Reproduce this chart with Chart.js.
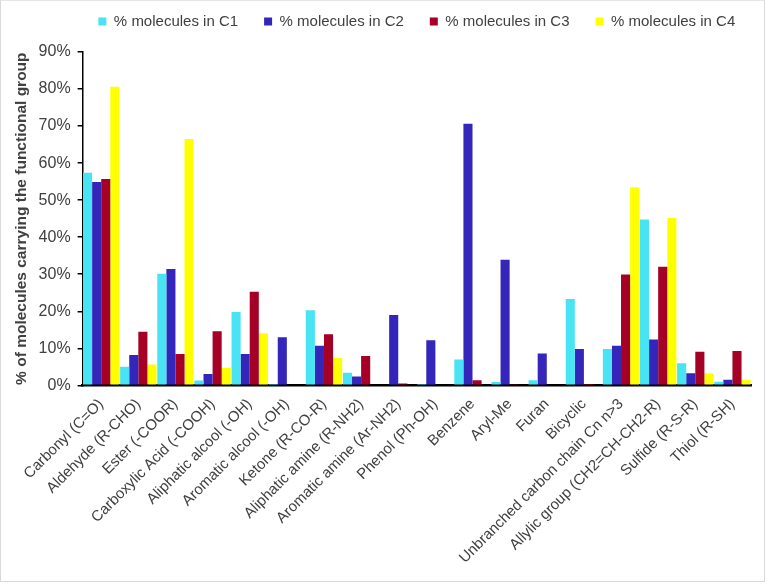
<!DOCTYPE html>
<html>
<head>
<meta charset="utf-8">
<script src="https://cdn.jsdelivr.net/npm/chart.js@4"></script>
<style>
  html, body { margin: 0; padding: 0; background: #fff; }
  #wrap { position: relative; width: 763px; height: 580px; border: 1px solid #d9d9d9; border-top-color: #e6e6e6; }
</style>
</head>
<body>
<div id="wrap"><canvas id="myChart"></canvas></div>
<script>
// functional groups on the x axis
const groups = [
  "Carbonyl (C=O)",
  "Aldehyde (R-CHO)",
  "Ester (-COOR)",
  "Carboxylic Acid (-COOH)",
  "Aliphatic alcool (-OH)",
  "Aromatic alcool (-OH)",
  "Ketone (R-CO-R)",
  "Aliphatic amine (R-NH2)",
  "Aromatic amine (Ar-NH2)",
  "Phenol (Ph-OH)",
  "Benzene",
  "Aryl-Me",
  "Furan",
  "Bicyclic",
  "Unbranched carbon chain Cn n>3",
  "Allylic group (CH2=CH-CH2-R)",
  "Sulfide (R-S-R)",
  "Thiol (R-SH)"
];

// % of molecules in each cluster
const c1 = [57.4, 5.0, 30.1, 1.3, 19.8, 0.4, 20.3, 3.4, 0, 0.4, 7.0, 0.9, 1.4, 23.3, 9.8, 44.8, 6.0, 1.0];
const c2 = [54.9, 8.2, 31.4, 3.1, 8.5, 13.0, 10.7, 2.4, 19.0, 12.2, 70.6, 33.9, 8.6, 9.8, 10.7, 12.4, 3.3, 1.5];
const c3 = [55.7, 14.5, 8.5, 14.6, 25.3, 0, 13.8, 7.9, 0.5, 0, 1.4, 0.3, 0, 0.4, 29.9, 32.0, 9.1, 9.3];
const c4 = [80.6, 5.6, 66.5, 4.7, 14.1, 0, 7.4, 0, 0, 0, 0, 0, 0, 0, 53.5, 45.2, 3.3, 1.5];

const yTicks = [0, 10, 20, 30, 40, 50, 60, 70, 80, 90];

const textColor = "#404040";
const ctx = document.getElementById("myChart");

// center the legend over the plot area and pull it up a bit
const legendShift = {
  id: "legendShift",
  afterLayout(chart) {
    const lg = chart.legend;
    const dx = (chart.chartArea.left + chart.chartArea.right) / 2 - (lg.left + lg.right) / 2;
    lg.left += dx;
    lg.right += dx;
    lg.top -= 13;
    lg.bottom -= 13;
  }
};

new Chart(ctx, {
  type: "bar",
  data: {
    labels: groups,
    datasets: [
      { label: "% molecules in C1", data: c1, backgroundColor: "#48e4f4" },
      { label: "% molecules in C2", data: c2, backgroundColor: "#3426ba" },
      { label: "% molecules in C3", data: c3, backgroundColor: "#a50025" },
      { label: "% molecules in C4", data: c4, backgroundColor: "#ffff00" }
    ]
  },
  plugins: [legendShift],
  options: {
    responsive: true,
    maintainAspectRatio: false,
    animation: false,
    datasets: {
      bar: { barPercentage: 1.0, categoryPercentage: 0.98 }
    },
    layout: { padding: { left: 11, right: 13, top: 0, bottom: 12 } },
    plugins: {
      tooltip: { enabled: false },
      legend: {
        position: "top",
        labels: {
          color: textColor,
          boxWidth: 8,
          boxHeight: 8,
          padding: 26,
          font: { family: "Liberation Sans", size: 15 }
        }
      }
    },
    scales: {
      x: {
        grid: { display: false },
        border: { color: "#000", width: 2.5 },
        ticks: {
          color: textColor,
          maxRotation: 45,
          minRotation: 45,
          autoSkip: false,
          padding: 2,
          font: { family: "Liberation Sans", size: 15 }
        }
      },
      y: {
        min: 0,
        max: 90,
        afterBuildTicks: (axis) => { axis.ticks = yTicks.map(v => ({ value: v })); },
        grid: {
          drawOnChartArea: false,
          drawTicks: true,
          tickLength: 5,
          color: "#000",
          lineWidth: 1.5
        },
        border: { color: "#000", width: 1.5 },
        ticks: {
          color: textColor,
          padding: 7,
          font: { family: "Liberation Sans", size: 16 },
          callback: (v) => v + "%"
        },
        title: {
          display: true,
          text: "% of molecules carrying the functional group",
          color: textColor,
          padding: { top: 0, bottom: 1 },
          font: { family: "Liberation Sans", size: 15.5, weight: "bold" }
        }
      }
    }
  }
});
</script>
</body>
</html>
